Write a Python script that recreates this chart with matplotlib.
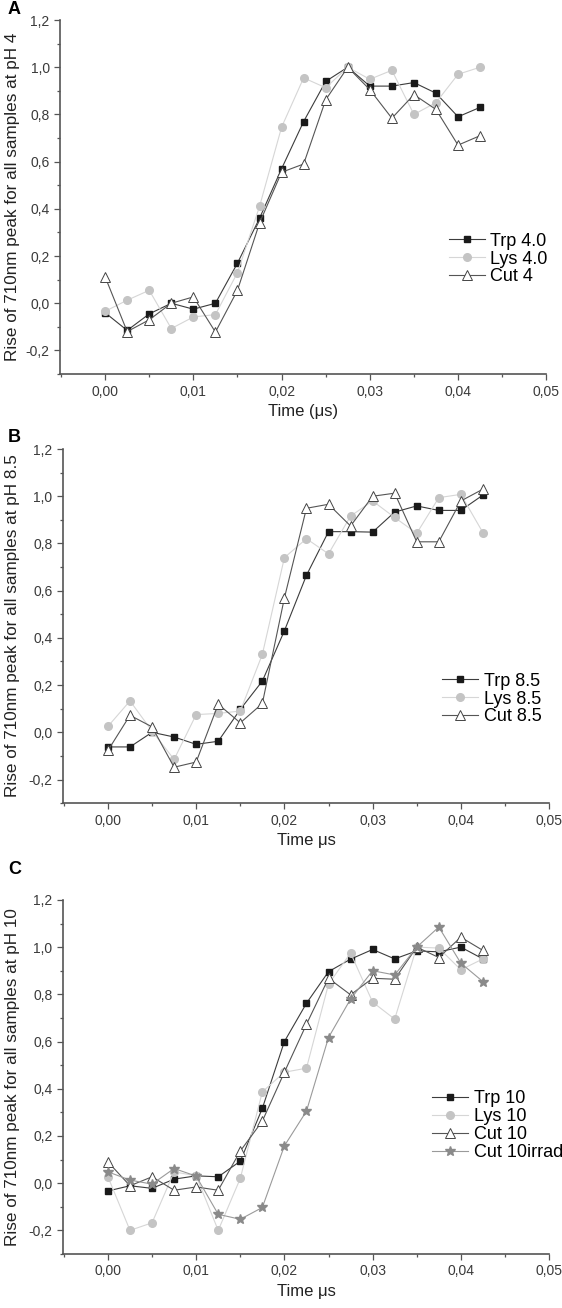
import matplotlib
matplotlib.use("Agg")
import matplotlib.pyplot as plt
from matplotlib.ticker import FuncFormatter, MultipleLocator

plt.rcParams["font.family"] = ["Liberation Sans", "DejaVu Sans"]

# tempo (us), mesmo para todos
t = [0.0, 0.0025, 0.005, 0.0075, 0.01, 0.0125, 0.015, 0.0175, 0.02,
     0.0225, 0.025, 0.0275, 0.03, 0.0325, 0.035, 0.0375, 0.04, 0.0425]

# pH 4
trp4 = [-0.04, -0.115, -0.045, 0.0, -0.025, 0.0, 0.17, 0.36, 0.57,
        0.77, 0.94, 1.0, 0.92, 0.92, 0.935, 0.89, 0.79, 0.83]
lys4 = [-0.034, 0.013, 0.055, -0.107, -0.058, -0.048, 0.13, 0.41, 0.746,
        0.955, 0.913, 1.0, 0.949, 0.987, 0.80, 0.85, 0.97, 1.0]
cut4 = [0.112, -0.12, -0.07, 0.0, 0.027, -0.122, 0.055, 0.34, 0.555,
        0.59, 0.862, 1.0, 0.905, 0.784, 0.884, 0.821, 0.67, 0.71]

# pH 8.5
trp85 = [-0.062, -0.062, 0.0, -0.02, -0.051, -0.038, 0.097, 0.217, 0.43,
         0.665, 0.85, 0.85, 0.848, 0.933, 0.959, 0.94, 0.94, 1.005]
lys85 = [0.025, 0.133, 0.005, -0.115, 0.075, 0.08, 0.09, 0.33, 0.74,
         0.82, 0.756, 0.916, 0.98, 0.91, 0.843, 0.994, 1.008, 0.846]
cut85 = [-0.077, 0.072, 0.023, -0.148, -0.126, 0.119, 0.04, 0.122, 0.569,
         0.949, 0.966, 0.874, 1.0, 1.013, 0.807, 0.807, 0.98, 1.03]

# pH 10
trp10 = [-0.033, -0.011, -0.022, 0.017, 0.031, 0.027, 0.093, 0.317, 0.60,
         0.762, 0.896, 0.949, 0.99, 0.95, 0.984, 0.98, 1.0, 0.95]
lys10 = [0.027, -0.2, -0.168, 0.048, 0.031, -0.2, 0.02, 0.387, 0.47,
         0.487, 0.843, 0.975, 0.767, 0.695, 1.0, 0.996, 0.904, 0.95]
cut10 = [0.09, -0.011, 0.027, -0.03, -0.016, -0.03, 0.136, 0.263, 0.47,
         0.673, 0.868, 0.798, 0.868, 0.864, 1.0, 0.956, 1.042, 0.986]
irr10 = [0.048, 0.013, -0.004, 0.062, 0.03, -0.132, -0.153, -0.103, 0.158,
         0.305, 0.617, 0.78, 0.9, 0.882, 1.0, 1.085, 0.932, 0.854]

# estilos de cada serie
styles = {
    "trp": dict(color="#3c3c3c", lw=0.8, marker="s", ms=5.0, mfc="#1a1a1a", mec="#1a1a1a"),
    "lys": dict(color="#d6d6d6", lw=0.8, marker="o", ms=5.5, mfc="#c4c4c4", mec="#c4c4c4"),
    "cut": dict(color="#555555", lw=0.8, marker="^", ms=6.5, mfc="white", mec="#444444", mew=0.7),
    "irr": dict(color="#9a9a9a", lw=0.8, marker="*", ms=7.0, mfc="#8a8a8a", mec="#8a8a8a"),
}

panels = [
    ("A", [("trp", trp4, "Trp 4.0"), ("lys", lys4, "Lys 4.0"), ("cut", cut4, "Cut 4")],
     "Rise of 710nm peak for all samples at pH 4", "Time (\u03bcs)",
     [0.107, 0.714, 0.865, 0.2707], (0.785, 0.325), -0.082, 10),
    ("B", [("trp", trp85, "Trp 8.5"), ("lys", lys85, "Lys 8.5"), ("cut", cut85, "Cut 8.5")],
     "Rise of 710nm peak for all samples at pH 8.5", "Time \u03bcs",
     [0.112, 0.386, 0.865, 0.2707], (0.765, 0.294), -0.088, 437),
    ("C", [("trp", trp10, "Trp 10"), ("lys", lys10, "Lys 10"), ("cut", cut10, "Cut 10"),
           ("irr", irr10, "Cut 10irrad")],
     "Rise of 710nm peak for all samples at pH 10", "Time \u03bcs",
     [0.112, 0.0413, 0.865, 0.2707], (0.745, 0.362), -0.088, 870),
]

fig = plt.figure(figsize=(5.62, 13.08), dpi=100)

axis_col = "#555555"

for letter, series, ylab, xlab, rect, leg_pos, ylab_x, letter_y in panels:
    ax = fig.add_axes(rect)
    for key, vals, lab in series:
        ax.plot(t, vals, label=lab, **styles[key])

    ax.set_xlim(-0.0051, 0.05)
    ax.set_ylim(-0.3, 1.2)
    ax.xaxis.set_major_locator(MultipleLocator(0.01))
    ax.xaxis.set_minor_locator(MultipleLocator(0.005))
    ax.yaxis.set_major_locator(MultipleLocator(0.2))
    ax.yaxis.set_minor_locator(MultipleLocator(0.1))
    ax.xaxis.set_major_formatter(FuncFormatter(lambda v, p: f"{v:.2f}".replace(".", ",")))
    ax.yaxis.set_major_formatter(FuncFormatter(lambda v, p: f"{v:.1f}".replace(".", ",").replace("-0,0", "0,0")))

    for s in ["top", "right"]:
        ax.spines[s].set_visible(False)
    for s in ["left", "bottom"]:
        ax.spines[s].set_color(axis_col)
        ax.spines[s].set_linewidth(1.2)

    ax.tick_params(which="major", direction="out", length=4.5, width=0.9, color=axis_col,
                   labelsize=10, labelcolor="#3a3a3a", pad=3)
    ax.tick_params(which="minor", direction="out", length=2.5, width=0.9, color=axis_col)

    ax.set_ylabel(ylab, fontsize=12.3, color="#222222")
    ax.yaxis.set_label_coords(ylab_x, 0.5)
    ax.set_xlabel(xlab, fontsize=12, color="#222222", labelpad=4)

    ax.legend(loc="center left", bbox_to_anchor=leg_pos, frameon=False, fontsize=13,
              handlelength=2.0, handletextpad=0.3, labelspacing=0.05, borderaxespad=0)

    fig.text(0.014, 1 - letter_y / 1308, letter, fontsize=13, fontweight="bold",
             va="center", ha="left")

fig.savefig("out.png", dpi=100)
